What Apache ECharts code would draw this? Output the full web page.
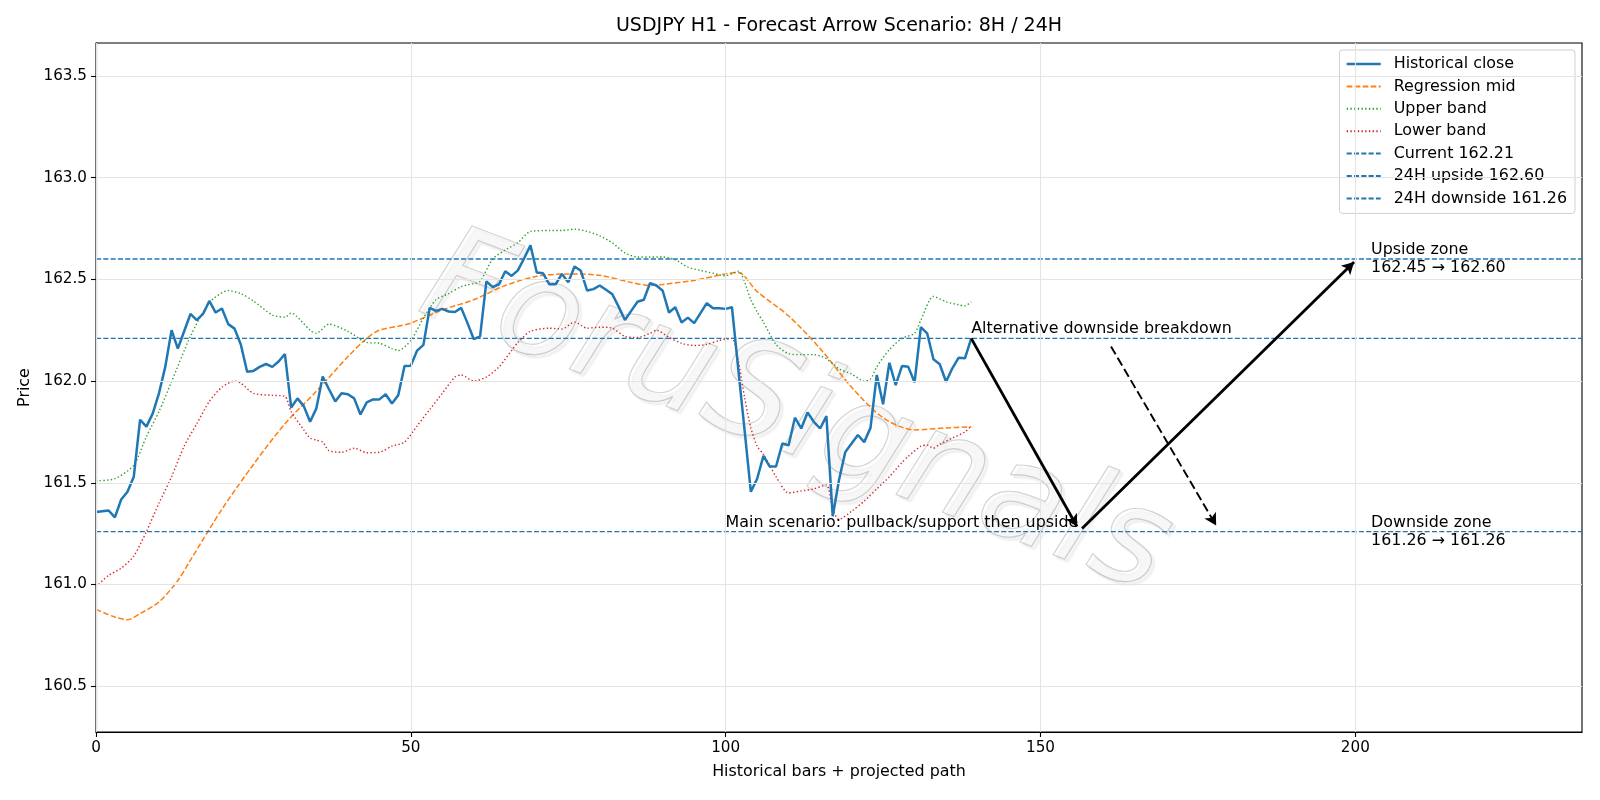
<!DOCTYPE html>
<html>
<head>
<meta charset="utf-8">
<title>USDJPY H1 - Forecast Arrow Scenario</title>
<script src="https://cdn.jsdelivr.net/npm/echarts@6.0.0/dist/echarts.min.js"></script>
<style>
  html, body { margin: 0; padding: 0; background: #fff; }
  #chart { width: 1600px; height: 800px; }
</style>
</head>
<body>
<div id="chart"></div>
<script>
// values
const histClose = [
  161.356, 161.36, 161.364, 161.33, 161.418, 161.456, 161.53, 161.81, 161.776, 161.84,
  161.94, 162.07, 162.25, 162.16, 162.245, 162.33, 162.30, 162.33, 162.394, 162.337,
  162.357, 162.28, 162.258, 162.18, 162.046, 162.05, 162.07, 162.084, 162.07, 162.096,
  162.133, 161.87, 161.915, 161.877, 161.80, 161.866, 162.022, 161.96, 161.90, 161.94,
  161.935, 161.915, 161.836, 161.895, 161.91, 161.91, 161.935, 161.89, 161.93, 162.074,
  162.076, 162.15, 162.178, 162.36, 162.345, 162.355, 162.342, 162.34, 162.36, 162.285,
  162.206, 162.22, 162.49, 162.462, 162.476, 162.54, 162.517, 162.544, 162.604, 162.667,
  162.534, 162.53, 162.476, 162.476, 162.527, 162.486, 162.563, 162.542, 162.445, 162.452,
  162.47, 162.449, 162.427, 162.366, 162.30, 162.345, 162.39, 162.40, 162.482, 162.47,
  162.444, 162.337, 162.363, 162.288, 162.312, 162.285, 162.334, 162.383, 162.358, 162.358,
  162.355, 162.363, 162.06, 161.76, 161.456, 161.52, 161.632, 161.58, 161.58, 161.693,
  161.685, 161.82, 161.767, 161.846, 161.80, 161.767, 161.828, 161.336, 161.514, 161.652,
  161.693, 161.735, 161.70, 161.77, 162.03, 161.886, 162.09, 161.98, 162.074, 162.07,
  161.994, 162.265, 162.235, 162.107, 162.083, 161.997, 162.063, 162.115, 162.112, 162.21
];

const midIdx = [0, 3, 5, 7, 10, 13, 15, 20, 25, 30, 35, 40, 43, 45, 48, 50, 55, 60, 65, 70,
  75, 80, 85, 88, 90, 95, 100, 102, 105, 110, 115, 120, 125, 130, 135, 139];
const midVal = [160.878, 160.84, 160.827, 160.857, 160.914, 161.02, 161.12, 161.37, 161.59, 161.79,
  161.95, 162.12, 162.21, 162.25, 162.27, 162.285, 162.35, 162.40, 162.47, 162.515,
  162.527, 162.52, 162.485, 162.47, 162.475, 162.495, 162.527, 162.534, 162.44, 162.32,
  162.16, 161.97, 161.82, 161.76, 161.77, 161.775];

const upIdx = [0, 3, 6, 8, 10, 12, 15, 18, 21, 23, 25, 28, 30, 31, 34, 35, 37, 40, 43, 45,
  47, 48, 50, 52, 54, 56, 58, 60, 61, 63, 65, 67, 69, 72, 74, 76, 78, 80, 82, 84,
  86, 88, 90, 92, 94, 96, 98, 100, 102, 104, 105, 106, 108, 110, 112, 114, 116, 118, 120, 122,
  123, 124, 126, 128, 130, 131, 133, 135, 137, 138, 139];
const upVal = [161.51, 161.52, 161.587, 161.727, 161.85, 161.997, 162.22, 162.386, 162.445, 162.43,
  162.394, 162.325, 162.314, 162.334, 162.25, 162.235, 162.28, 162.245, 162.19, 162.186,
  162.16, 162.15, 162.20, 162.31, 162.40, 162.43, 162.464, 162.48, 162.49, 162.60,
  162.645, 162.68, 162.736, 162.74, 162.74, 162.747, 162.736, 162.714, 162.68, 162.63,
  162.61, 162.61, 162.61, 162.596, 162.56, 162.544, 162.53, 162.518, 162.54, 162.40,
  162.34, 162.29, 162.18, 162.135, 162.13, 162.13, 162.11, 162.06, 162.035, 162.00,
  162.01, 162.07, 162.155, 162.21, 162.235, 162.30, 162.416, 162.39, 162.375, 162.37, 162.39];

const loIdx = [0, 2, 4, 6, 8, 10, 12, 14, 16, 18, 20, 22, 23, 25, 28, 30, 31, 33, 34, 35,
  36, 37, 39, 41, 43, 45, 47, 49, 51, 53, 55, 57, 58, 60, 62, 64, 66, 67, 69, 72,
  74, 76, 78, 80, 82, 84, 86, 88, 89, 91, 93, 95, 97, 99, 101, 102, 103, 104, 105, 106,
  108, 110, 112, 114, 116, 117, 118, 120, 122, 124, 126, 128, 129, 131, 132, 133, 134, 136, 138, 139];
const loVal = [160.988, 161.045, 161.08, 161.14, 161.26, 161.40, 161.53, 161.68, 161.79, 161.90,
  161.97, 162.00, 161.99, 161.94, 161.93, 161.925, 161.85, 161.76, 161.72, 161.71,
  161.70, 161.658, 161.65, 161.67, 161.648, 161.65, 161.68, 161.70, 161.78, 161.86,
  161.94, 162.02, 162.03, 162.00, 162.02, 162.07, 162.15, 162.19, 162.245, 162.26,
  162.256, 162.29, 162.26, 162.265, 162.26, 162.22, 162.214, 162.235, 162.25, 162.215,
  162.186, 162.175, 162.18, 162.20, 162.21, 162.10, 161.92, 161.77, 161.68, 161.64,
  161.53, 161.45, 161.46, 161.47, 161.49, 161.37, 161.32, 161.36, 161.41, 161.47,
  161.53, 161.60, 161.63, 161.68, 161.685, 161.67, 161.69, 161.72, 161.75, 161.78];

const currentPrice = 162.21;
const upsideTarget = 162.60;
const downsideTarget = 161.26;

const xTicks = [0, 50, 100, 150, 200];
const yTicks = [160.5, 161.0, 161.5, 162.0, 162.5, 163.0, 163.5];
const xRange = [0, 236];
const yRange = [160.275, 163.662];

// projected path arrows: [from, to] in (bar, price)
const mainDownArrow = [[139, 162.21], [155.8, 161.285]];
const mainUpArrow = [[156.6, 161.275], [199.8, 162.585]];
const altArrow = [[161.2, 162.17], [177.9, 161.29]];

// annotation texts and their anchor points (bar, price)
const altNote = ['Alternative downside breakdown', [139, 162.21]];
const mainNote = ['Main scenario: pullback/support then upside', [156, 161.26]];
const upZoneNote = ['Upside zone\n162.45 \u2192 162.60', [202.5, 162.60]];
const downZoneNote = ['Downside zone\n161.26 \u2192 161.26', [202.5, 161.26]];

const FONT = '"DejaVu Sans", "Liberation Sans", sans-serif';
const FS = 15.9;
const TICK_FS = 15.2;
const pairs = (xs, ys) => xs.map((x, i) => [x, ys[i]]);
const hline = v => [[xRange[0], v], [xRange[1], v]];

const nameCurrent = 'Current ' + currentPrice.toFixed(2);
const nameUp = '24H upside ' + upsideTarget.toFixed(2);
const nameDown = '24H downside ' + downsideTarget.toFixed(2);

const chart = echarts.init(document.getElementById('chart'), null, { renderer: 'canvas' });

const noteItem = (note, align, vAlign) => ({
  coord: note[1],
  label: { formatter: note[0], align: align, verticalAlign: vAlign }
});

const option = {
  animation: false,
  backgroundColor: '#ffffff',
  textStyle: { fontFamily: FONT },
  title: {
    text: 'USDJPY H1 - Forecast Arrow Scenario: 8H / 24H',
    left: 834,
    top: 12,
    textAlign: 'center',
    textStyle: { fontFamily: FONT, fontSize: 19, fontWeight: 'normal', color: '#000' }
  },
  graphic: [{
    type: 'text',
    x: 795,
    y: 418,
    rotation: -21 * Math.PI / 180,
    z: 1,
    silent: true,
    style: {
      text: 'ForuSignals',
      font: 'italic 300 135px "DejaVu Sans"',
      align: 'center',
      verticalAlign: 'middle',
      fill: 'rgba(255,255,255,0.25)',
      stroke: 'rgba(165,165,165,0.55)',
      lineWidth: 1.2,
      textShadowColor: 'rgba(0,0,0,0.15)',
      textShadowOffsetX: 3,
      textShadowOffsetY: 3,
      textShadowBlur: 2
    }
  }],
  legend: {
    data: [
      { name: 'Historical close', lineStyle: { width: 2.5 } },
      'Regression mid', 'Upper band', 'Lower band', nameCurrent, nameUp, nameDown
    ],
    orient: 'vertical',
    right: 25,
    top: 50,
    padding: [6, 8, 7, 6],
    itemGap: 6.4,
    itemWidth: 34,
    itemHeight: 14,
    backgroundColor: 'rgba(255,255,255,0.85)',
    borderColor: '#d0d0d0',
    borderWidth: 1,
    borderRadius: 3,
    selectedMode: false,
    itemStyle: { opacity: 0 },
    textStyle: { fontFamily: FONT, fontSize: FS, lineHeight: 16, color: '#000', padding: [0, 0, 0, 8] }
  },
  grid: { left: 96, right: 18, top: 43, bottom: 68, show: true, borderColor: '#000', borderWidth: 1.1, backgroundColor: 'transparent', outerBoundsMode: 'none' },
  xAxis: {
    type: 'value',
    min: xRange[0],
    max: xRange[1],
    name: 'Historical bars + projected path',
    nameLocation: 'middle',
    nameGap: 32,
    nameTextStyle: { fontFamily: FONT, fontSize: FS, color: '#000' },
    axisLine: { show: true, onZero: false, lineStyle: { color: '#000', width: 1.1 } },
    axisTick: { show: true, inside: false, length: 5, customValues: xTicks, lineStyle: { color: '#000', width: 1.1 } },
    axisLabel: { customValues: xTicks, margin: 9, fontFamily: FONT, fontSize: TICK_FS, color: '#000', hideOverlap: false },
    splitLine: { show: false }
  },
  yAxis: {
    type: 'value',
    min: yRange[0],
    max: yRange[1],
    name: 'Price',
    nameLocation: 'middle',
    nameGap: 62,
    nameTextStyle: { fontFamily: FONT, fontSize: FS, color: '#000' },
    axisLine: { show: true, onZero: false, lineStyle: { color: '#000', width: 1.1 } },
    axisTick: { show: true, inside: false, length: 5, customValues: yTicks, lineStyle: { color: '#000', width: 1.1 } },
    axisLabel: { customValues: yTicks, margin: 9, fontFamily: FONT, fontSize: TICK_FS, color: '#000', hideOverlap: false,
      formatter: v => v.toFixed(1) },
    splitLine: { show: false }
  },
  series: [
    {
      name: 'gridlines',
      type: 'line',
      data: [],
      z: 0,
      silent: true,
      markLine: {
        silent: true,
        symbol: 'none',
        label: { show: false },
        lineStyle: { color: '#e4e4e4', width: 1.1, type: 'solid' },
        emphasis: { disabled: true },
        data: [...yTicks.map(v => ({ yAxis: v })), ...xTicks.map(v => ({ xAxis: v }))]
      }
    },
    {
      name: 'Historical close',
      type: 'line',
      data: histClose.map((v, i) => [i, v]),
      symbol: 'none',
      z: 4,
      color: '#1f77b4',
      lineStyle: { color: '#1f77b4', width: 2.5 }
    },
    {
      name: 'Regression mid',
      type: 'line',
      data: pairs(midIdx, midVal),
      symbol: 'none',
      smooth: 0.3,
      z: 3,
      color: '#ff7f0e',
      lineStyle: { color: '#ff7f0e', width: 1.5, type: [5.6, 2.4] }
    },
    {
      name: 'Upper band',
      type: 'line',
      data: pairs(upIdx, upVal),
      symbol: 'none',
      smooth: 0.25,
      z: 3,
      color: '#2ca02c',
      lineStyle: { color: '#2ca02c', width: 1.4, type: [1.4, 2.3] }
    },
    {
      name: 'Lower band',
      type: 'line',
      data: pairs(loIdx, loVal),
      symbol: 'none',
      smooth: 0.25,
      z: 3,
      color: '#d62728',
      lineStyle: { color: '#d62728', width: 1.4, type: [1.4, 2.3] }
    },
    {
      name: nameCurrent,
      type: 'line',
      data: hline(currentPrice),
      symbol: 'none',
      z: 3,
      color: '#1f77b4',
      lineStyle: { color: '#1f77b4', width: 1.4, type: [5.1, 2.2] }
    },
    {
      name: nameUp,
      type: 'line',
      data: hline(upsideTarget),
      symbol: 'none',
      z: 3,
      color: '#1f77b4',
      lineStyle: { color: '#1f77b4', width: 1.4, type: [5.1, 2.2] }
    },
    {
      name: nameDown,
      type: 'line',
      data: hline(downsideTarget),
      symbol: 'none',
      z: 3,
      color: '#1f77b4',
      lineStyle: { color: '#1f77b4', width: 1.4, type: [5.1, 2.2] }
    },
    {
      name: 'annotations',
      type: 'line',
      data: [],
      z: 5,
      silent: true,
      markLine: {
        silent: true,
        symbol: ['none', 'arrow'],
        symbolSize: [10, 12],
        label: { show: false },
        emphasis: { disabled: true },
        lineStyle: { color: '#000', width: 2.8, type: 'solid', opacity: 1 },
        data: [
          [{ coord: mainDownArrow[0] }, { coord: mainDownArrow[1] }],
          [{ coord: mainUpArrow[0] }, { coord: mainUpArrow[1] }],
          [{ coord: altArrow[0], lineStyle: { width: 1.9, type: [9, 4] } }, { coord: altArrow[1] }]
        ]
      },
      markPoint: {
        silent: true,
        symbol: 'circle',
        symbolSize: 0,
        label: { show: true, position: 'inside', fontFamily: FONT, fontSize: FS, color: '#000', lineHeight: 18 },
        data: [
          noteItem(altNote, 'left', 'bottom'),
          noteItem(mainNote, 'right', 'bottom'),
          noteItem(upZoneNote, 'left', 'middle'),
          noteItem(downZoneNote, 'left', 'middle')
        ]
      }
    }
  ]
};

chart.setOption(option);
window.onresize = () => { chart.resize(); };
</script>
</body>
</html>
